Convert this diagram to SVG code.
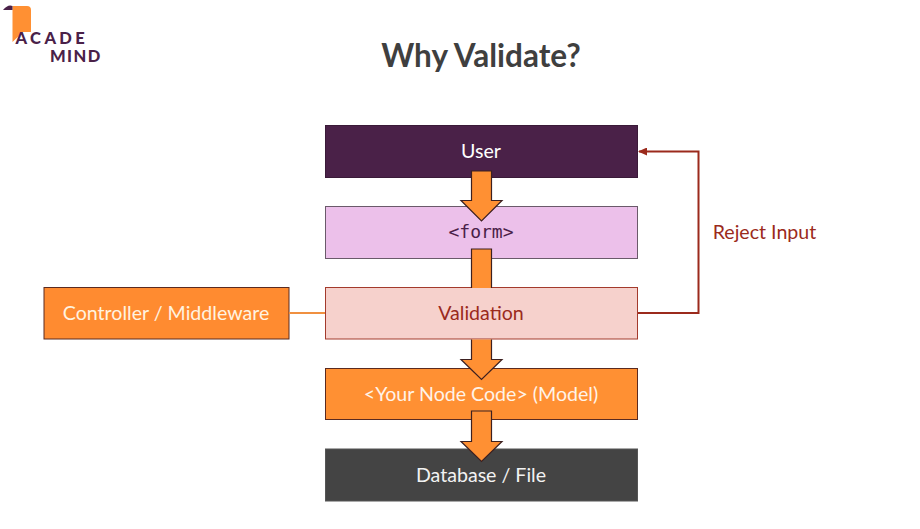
<svg xmlns="http://www.w3.org/2000/svg" width="920" height="529" viewBox="0 0 920 529">
<style>
text{font-family:Lato,"Open Sans","Noto Sans",sans-serif;font-size:19.6px;text-anchor:middle}
.box{stroke-width:1}
.arrow{fill:#ff9033;stroke:#3d2020;stroke-width:1.2}
.logo{font-weight:900;font-size:16.500px;fill:#4a2148;text-anchor:start}
</style>
<defs>
<marker id="head" markerWidth="9" markerHeight="8" refX="8" refY="4" orient="auto" markerUnits="userSpaceOnUse"><path d="M0 0L9 4L0 8Z" fill="#9b2a1c"/></marker>
</defs>
<rect width="920" height="529" fill="#fff"/>
<g id="logo">
<path d="M12.500 6H27Q31 6 31 10V32H23L12.500 42Z" fill="#ff9033"/>
<path d="M3 10Q8 4 12.500 6V10Z" fill="#4a2148"/>
<text class="logo" x="15.500" y="44" style="letter-spacing:3.400px">ACADE</text>
<text class="logo" x="50" y="61.500" style="letter-spacing:1.400px">MIND</text>
</g>
<text id="title" x="481" y="67" style="font-size:31.500px;font-weight:700" fill="#3f3f3f">Why Validate?</text>
<g id="user"><rect class="box" x="325.5" y="125.5" width="312" height="52" fill="#4a2148" stroke="#3a1a38"/><text x="481" y="158" fill="#fff">User</text></g>
<g id="form"><rect class="box" x="325.5" y="206.5" width="312" height="52" fill="#ecc0ea" stroke="#6a5a6a"/><text x="481" y="238" style="font-family:'DejaVu Sans Mono','Liberation Mono',monospace;font-size:18px" fill="#4a2148">&lt;form&gt;</text></g>
<g id="validation"><rect class="box" x="325.5" y="287.5" width="312" height="51.5" fill="#f6d1cc" stroke="#a33a2c"/><text x="481" y="320" fill="#9b2a1c">Validation</text></g>
<g id="model"><rect class="box" x="325.5" y="368.5" width="312" height="51" fill="#ff9033" stroke="#5a2a20"/><text x="481" y="401" fill="#fff3e8">&lt;Your Node Code&gt; (Model)</text></g>
<g id="database"><rect class="box" x="325.5" y="449" width="312" height="52" fill="#444" stroke="#555"/><text x="481" y="482" fill="#f2f2f2">Database / File</text></g>
<g id="controller"><rect class="box" x="44" y="287.5" width="245" height="51.5" fill="#ff8b30" stroke="#5a2a20"/><text x="166" y="320" fill="#fff3e0">Controller / Middleware</text></g>
<text id="reject-label" x="764.5" y="239" fill="#9b2a1c">Reject Input</text>
<g id="connectors">
<path class="arrow" d="M471.5 171H491.5V200.5H502L481.5 221L461 200.5H471.5Z"/>
<path class="arrow" d="M471.5 288V249H491.5V288"/>
<path class="arrow" d="M471.5 339.5V359.5H461L481.5 379.5L502 359.5H491.5V339.5"/>
<path class="arrow" d="M471.5 411H491.5V441.5H502L481.5 461.5L461 441.5H471.5Z"/>
<path d="M289 313H325" fill="none" stroke="#f09040" stroke-width="2"/>
<path d="M638 313H698.5V151.5H639" fill="none" stroke="#9b2a1c" stroke-width="2" marker-end="url(#head)"/>
</g>
</svg>
